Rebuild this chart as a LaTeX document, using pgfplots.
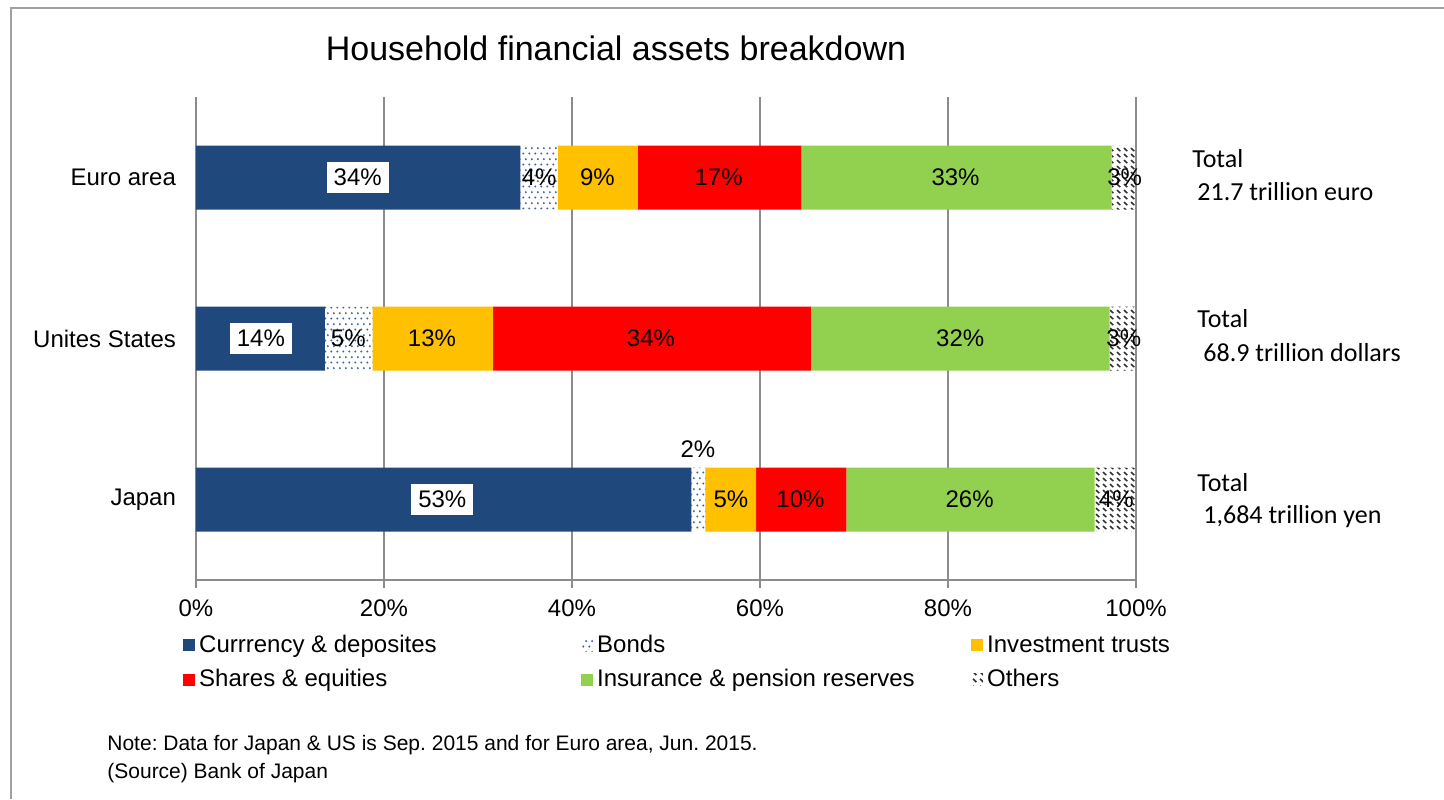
\documentclass[border=0pt]{standalone}
\usepackage{pgfplots}
\pgfplotsset{compat=1.18}
\usepackage{fontspec}
\setmainfont{Liberation Sans}
\newfontfamily\calibri{Carlito}
\usetikzlibrary{patterns}
\frenchspacing

\definecolor{cDep}{HTML}{1F497D}
\definecolor{cInv}{HTML}{FFC000}
\definecolor{cSha}{HTML}{FF0000}
\definecolor{cIns}{HTML}{92D050}
\definecolor{cAx}{HTML}{8C8C8C}
\definecolor{cDot}{HTML}{3F6499}
\definecolor{cFrame}{HTML}{A0A0A0}
\definecolor{cDash}{HTML}{303030}

% bonds: staggered dots, others: short diagonal dashes
\pgfdeclarepatternformonly{bonddots}{\pgfqpoint{0pt}{0pt}}{\pgfqpoint{3pt}{5.4pt}}{\pgfqpoint{3pt}{5.4pt}}{
  \pgfpathcircle{\pgfqpoint{0.75pt}{0.75pt}}{0.6pt}
  \pgfpathcircle{\pgfqpoint{2.25pt}{3.45pt}}{0.6pt}
  \pgfusepath{fill}
}
\pgfdeclarepatternformonly{otherdash}{\pgfqpoint{0pt}{0pt}}{\pgfqpoint{3.4pt}{3.2pt}}{\pgfqpoint{3.4pt}{3.2pt}}{
  \pgfsetlinewidth{0.8pt}
  \pgfpathmoveto{\pgfqpoint{0.5pt}{2.7pt}}
  \pgfpathlineto{\pgfqpoint{2.2pt}{1.0pt}}
  \pgfusepath{stroke}
}

\newcommand{\lblfont}{\fontsize{12}{14}\selectfont}
\tikzset{dl/.style={font=\lblfont}, dlbox/.style={font=\lblfont, fill=white, inner sep=3.5pt}}

\begin{document}
\begin{tikzpicture}
\begin{axis}[
  xbar stacked,
  scale only axis,
  width=470pt, height=241.5pt,
  xmin=0, xmax=100, ymin=0, ymax=3,
  bar width=32pt,
  xtick={0,20,40,60,80,100},
  xticklabels={0\%,20\%,40\%,60\%,80\%,100\%},
  ytick={0.5,1.5,2.5},
  yticklabels={Japan,Unites States,Euro area},
  minor ytick={0,1,2,3},
  ytick style={draw=none},
  tick align=outside,
  major tick length=4pt,
  minor tick length=3pt,
  xmajorgrids,
  grid style={cAx, line width=0.75pt},
  axis lines*=left,
  axis line style={cAx, line width=0.75pt},
  tick style={cAx, line width=0.75pt},
  tick label style={font=\lblfont, black},
  yticklabel style={xshift=-2.5pt},
  xticklabel style={yshift=-2.5pt},
  legend columns=3,
  legend cell align=left,
  legend style={draw=none, fill=none, font=\lblfont, inner sep=0pt,
    at={(-0.014,-0.105)}, anchor=north west,
    /tikz/every even column/.append style={column sep=2pt},
    row sep=3pt},
  legend image code/.code={\path[#1] (0pt,-3pt) rectangle (6pt,3pt);},
]
\addplot[fill=cDep, draw=none] coordinates {(52.7,0.5) (13.7,1.5) (34.5,2.5)};
\addlegendentry{\hbox to 187pt{Currrency \& deposites\hfil}}
\addplot[pattern=bonddots, pattern color=cDot, draw=none] coordinates {(1.5,0.5) (5.1,1.5) (4.0,2.5)};
\addlegendentry{\hbox to 183pt{Bonds\hfil}}
\addplot[fill=cInv, draw=none] coordinates {(5.4,0.5) (12.8,1.5) (8.5,2.5)};
\addlegendentry{Investment trusts}
\addplot[fill=cSha, draw=none] coordinates {(9.6,0.5) (33.8,1.5) (17.4,2.5)};
\addlegendentry{\hbox to 187pt{Shares \& equities\hfil}}
\addplot[fill=cIns, draw=none] coordinates {(26.4,0.5) (31.8,1.5) (33.0,2.5)};
\addlegendentry{\hbox to 183pt{Insurance \& pension reserves\hfil}}
\addplot[pattern=otherdash, pattern color=cDash, draw=none] coordinates {(4.4,0.5) (2.8,1.5) (2.6,2.5)};
\addlegendentry{Others}

% label anchors (segment centres), drawn after the axis so they sit above the bars
\coordinate (e1) at (axis cs:17.2,2.5);
\coordinate (e2) at (axis cs:36.5,2.5);
\coordinate (e3) at (axis cs:42.7,2.5);
\coordinate (e4) at (axis cs:55.6,2.5);
\coordinate (e5) at (axis cs:80.8,2.5);
\coordinate (e6) at (axis cs:98.8,2.5);
\coordinate (u1) at (axis cs:6.9,1.5);
\coordinate (u2) at (axis cs:16.2,1.5);
\coordinate (u3) at (axis cs:25.1,1.5);
\coordinate (u4) at (axis cs:48.4,1.5);
\coordinate (u5) at (axis cs:81.3,1.5);
\coordinate (u6) at (axis cs:98.7,1.5);
\coordinate (j1) at (axis cs:26.2,0.5);
\coordinate (j2) at (axis cs:53.4,0.81);
\coordinate (j3) at (axis cs:56.9,0.5);
\coordinate (j4) at (axis cs:64.3,0.5);
\coordinate (j5) at (axis cs:82.3,0.5);
\coordinate (j6) at (axis cs:97.9,0.5);
\end{axis}

\node[dlbox] at (e1) {34\%};
\node[dl] at (e2) {4\%};
\node[dl] at (e3) {9\%};
\node[dl] at (e4) {17\%};
\node[dl] at (e5) {33\%};
\node[dl] at (e6) {3\%};
\node[dlbox] at (u1) {14\%};
\node[dl] at (u2) {5\%};
\node[dl] at (u3) {13\%};
\node[dl] at (u4) {34\%};
\node[dl] at (u5) {32\%};
\node[dl] at (u6) {3\%};
\node[dlbox] at (j1) {53\%};
\node[dl] at (j2) {2\%};
\node[dl] at (j3) {5\%};
\node[dl] at (j4) {10\%};
\node[dl] at (j5) {26\%};
\node[dl] at (j6) {4\%};

% page area and outer frame (1 px = 0.5 pt, axis corner at px (196,580))
\path[use as bounding box] (-98pt,-109.5pt) rectangle (624pt,290pt);
\draw[cFrame, line width=1pt] (-92.5pt,-109.5pt) -- (-92.5pt,286pt) -- (624pt,286pt);

\node[font=\fontsize{17}{20}\selectfont] at (210pt,266pt) {Household financial assets breakdown};

\node[anchor=west, inner sep=0pt, font=\calibri\fontsize{13}{15}\selectfont] at (498pt,210.5pt) {Total};
\node[anchor=west, inner sep=0pt, font=\calibri\fontsize{13}{15}\selectfont] at (500.5pt,194pt) {21.7 trillion euro};
\node[anchor=west, inner sep=0pt, font=\calibri\fontsize{13}{15}\selectfont] at (500.5pt,130.5pt) {Total};
\node[anchor=west, inner sep=0pt, font=\calibri\fontsize{13}{15}\selectfont] at (503.5pt,113.5pt) {68.9 trillion dollars};
\node[anchor=west, inner sep=0pt, font=\calibri\fontsize{13}{15}\selectfont] at (500.5pt,48.5pt) {Total};
\node[anchor=west, inner sep=0pt, font=\calibri\fontsize{13}{15}\selectfont] at (503.5pt,31.5pt) {1,684 trillion yen};

\node[anchor=west, inner sep=0pt, font=\fontsize{10.5}{13}\selectfont] at (-44.5pt,-82.5pt) {Note: Data for Japan \& US is Sep. 2015 and for Euro area, Jun. 2015.};
\node[anchor=west, inner sep=0pt, font=\fontsize{10.5}{13}\selectfont] at (-44.5pt,-96.5pt) {(Source) Bank of Japan};
\end{tikzpicture}
\end{document}
